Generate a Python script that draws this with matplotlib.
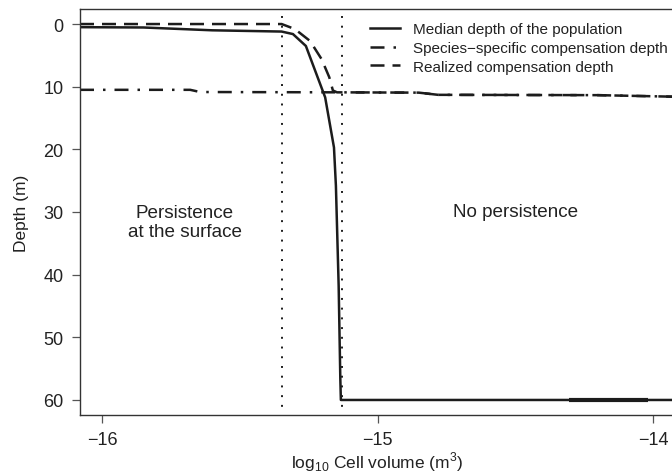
import matplotlib
matplotlib.use('Agg')
import matplotlib.pyplot as plt

plt.rcParams['font.family'] = ['Liberation Sans', 'DejaVu Sans']

# median depth of the population
median_x = [-16.08, -15.85, -15.60, -15.348, -15.307, -15.26, -15.19, -15.158,
            -15.151, -15.141, -15.135, -15.133, -13.92]
median_depth = [0.5, 0.55, 1.0, 1.2, 1.6, 3.5, 11.7, 19.7,
                25.8, 41.8, 56.6, 60.0, 60.0]

# species-specific compensation depth
species_x = [-16.08, -15.68, -15.644, -15.136, -14.85, -14.78, -14.2, -13.92]
species_depth = [10.5, 10.5, 10.85, 10.9, 10.95, 11.3, 11.35, 11.6]

# realized compensation depth
realized_x = [-16.08, -15.348, -15.30, -15.245, -15.203, -15.175, -15.162, -15.147,
              -14.85, -14.78, -14.2, -13.92]
realized_depth = [0.0, 0.0, 0.8, 2.7, 5.6, 8.5, 10.6, 10.9,
                  10.95, 11.3, 11.35, 11.6]

# thicker overlap on the bottom line
overlap_x = [-14.305, -14.018]
overlap_depth = [60.0, 60.0]

thresholds = [-15.348, -15.13]

ink = '#1c1c1c'
text_color = '#222222'

fig = plt.figure(figsize=(6.72, 4.77), dpi=100)
ax = fig.add_axes([80 / 672, 61 / 477, 595 / 672, 406 / 477])

ax.vlines(thresholds, -1.3, 61.5, colors=ink, linestyles=(0, (1, 4)), lw=1.4)
ax.plot(median_x, median_depth, color=ink, lw=1.8, solid_joinstyle='round',
        label='Median depth of the population')
ax.plot(species_x, species_depth, color=ink, lw=1.8,
        dashes=(5.6, 3.6, 1, 3.6), label='Species\u2212specific compensation depth')
ax.plot(realized_x, realized_depth, color=ink, lw=1.8, dashes=(5.6, 3.2),
        label='Realized compensation depth')
ax.plot(overlap_x, overlap_depth, color=ink, lw=3.0, solid_capstyle='butt')

ax.text(-15.70, 31.6, 'Persistence\nat the surface', ha='center', va='center',
        fontsize=13.6, color=text_color, linespacing=1.12)
ax.text(-14.50, 30.0, 'No persistence', ha='center', va='center',
        fontsize=13.6, color=text_color)

ax.set_xlim(-16.08, -13.92)
ax.set_ylim(62.4, -2.4)
ax.set_xticks([-16, -15, -14])
ax.set_xticklabels(['\u221216', '\u221215', '\u221214'])
ax.set_yticks([0, 10, 20, 30, 40, 50, 60])

ax.tick_params(direction='out', length=5.8, width=0.9, color='#555555',
               labelsize=13, labelcolor=text_color)
ax.tick_params(axis='y', pad=6)
ax.tick_params(axis='x', pad=5.5)
for side in ['left', 'bottom', 'top', 'right']:
    ax.spines[side].set_color('#333333')
    ax.spines[side].set_linewidth(1.0)

ax.set_ylabel('Depth (m)', fontsize=12.5, color=text_color, labelpad=10)
ax.set_xlabel('log$_\\mathregular{10}$ Cell volume (m$^\\mathregular{3}$)',
              fontsize=12.5, color=text_color, labelpad=1)

ax.legend(loc='upper left', bbox_to_anchor=(0.487, 0.968), frameon=False,
          fontsize=11, handlelength=2.0, handletextpad=0.85, labelspacing=0.32,
          borderpad=0, borderaxespad=0, labelcolor=text_color)

fig.savefig('out.png', dpi=100)
